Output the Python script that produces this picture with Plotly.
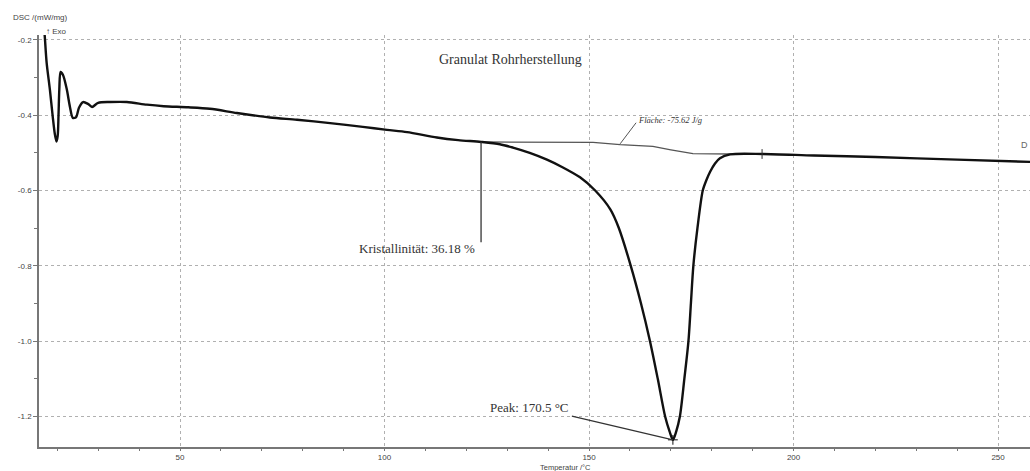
import plotly.graph_objects as go

# DSC heating run of the pipe granulate
temperature = [16.8, 17.0, 17.4, 18.2, 18.9, 19.4, 19.8, 20.1, 20.3, 20.5, 20.8, 21.4,
               22.3, 23.1, 23.8, 24.6, 25.3, 26.3, 27.5, 28.5, 30.0, 32.9, 37.0, 41.9,
               46.0, 52.0, 57.3, 63.9, 72.0, 78.6, 86.7, 94.7, 100.6, 105.5, 112.8, 118.0,
               123.6, 128.2, 131.4, 135.5, 139.7, 143.5, 147.8, 151.5, 155.2, 157.3,
               160.2, 162.7, 164.9, 166.8, 168.6, 169.7, 170.5, 171.3, 172.2, 173.3, 174.3,
               174.9, 175.5, 176.5, 177.8, 178.7, 179.6, 180.8, 182.0, 184.5, 192.5, 205.0,
               220.0, 240.0, 258.0]
dsc = [-0.17, -0.20, -0.261, -0.333, -0.405, -0.450, -0.470, -0.455, -0.400, -0.330, -0.285, -0.293,
       -0.330, -0.378, -0.407, -0.405, -0.380, -0.365, -0.370, -0.378, -0.367, -0.365, -0.365, -0.372,
       -0.376, -0.379, -0.383, -0.394, -0.406, -0.412, -0.421, -0.431, -0.439, -0.445, -0.459, -0.466,
       -0.471, -0.477, -0.486, -0.500, -0.518, -0.538, -0.565, -0.600, -0.650, -0.700,
       -0.800, -0.900, -1.000, -1.100, -1.200, -1.240, -1.262, -1.240, -1.200, -1.100, -1.000,
       -0.900, -0.800, -0.700, -0.600, -0.572, -0.550, -0.528, -0.514, -0.504, -0.503, -0.507,
       -0.511, -0.518, -0.524]

# integration baseline of the melting peak
baseline_t = [123.6, 151.0, 157.6, 165.6, 170.0, 175.4, 185.0, 192.3]
baseline_v = [-0.471, -0.472, -0.478, -0.483, -0.492, -0.502, -0.503, -0.503]

peak_t, peak_v = 170.5, -1.262
onset_t, onset_v = 123.6, -0.471
area_text = "Fläche: -75.62 J/g"
cryst_text = "Kristallinität: 36.18 %"
peak_text = "Peak: 170.5 °C"
title_text = "Granulat Rohrherstellung"

x_ticks = [50, 100, 150, 200, 250]
y_ticks = [-0.2, -0.4, -0.6, -0.8, -1.0, -1.2]
y_labels = ["-0.2", "-0.4", "-0.6", "-0.8", "-1.0", "-1.2"]

axis_col = "#777777"
grid_col = "#b0b0b0"
tick_font = dict(family="Liberation Sans", size=8, color="#444444")
serif = "Liberation Serif"

W, H = 1030, 471
ML, MR, MT, MB = 39, 0, 35, 24

fig = go.Figure()
fig.add_trace(go.Scatter(x=baseline_t, y=baseline_v, mode="lines",
                         line=dict(color="#555555", width=1.3), hoverinfo="skip"))
fig.add_trace(go.Scatter(x=temperature, y=dsc, mode="lines",
                         line=dict(color="#111111", width=2.4, shape="spline", smoothing=0.8)))
fig.add_trace(go.Scatter(x=[peak_t], y=[peak_v], mode="markers",
                         marker=dict(symbol="cross-thin", size=7, line=dict(color="#111111", width=1))))
fig.add_trace(go.Scatter(x=[baseline_t[-1]], y=[baseline_v[-1]], mode="markers",
                         marker=dict(symbol="line-ns", size=7, line=dict(color="#333333", width=1))))

# leader lines
fig.add_shape(type="line", x0=onset_t, y0=onset_v, x1=onset_t, y1=-0.737,
              line=dict(color="#333333", width=1.3))
fig.add_shape(type="line", x0=145.8, y0=-1.199, x1=peak_t, y1=peak_v,
              line=dict(color="#333333", width=1.2))
fig.add_shape(type="line", x0=157.6, y0=-0.476, x1=161.5, y1=-0.42,
              line=dict(color="#555555", width=1))

fig.add_annotation(x=122.7, y=-0.755, text=cryst_text, showarrow=False,
                   xanchor="right", yanchor="middle",
                   font=dict(family=serif, size=13, color="#333333"))
fig.add_annotation(x=145.5, y=-1.175, text=peak_text, showarrow=False,
                   xanchor="right", yanchor="middle",
                   font=dict(family=serif, size=13, color="#333333"))
fig.add_annotation(x=161.5, y=-0.414, text="<i>" + area_text + "</i>", showarrow=False,
                   xanchor="left", yanchor="middle",
                   font=dict(family=serif, size=8.5, color="#333333"))


def paper(px, py):
    # pixel position in the page -> paper coordinates of the plot area
    return (px - ML) / (W - ML - MR), (H - MB - py) / (H - MT - MB)


sans8 = dict(family="Liberation Sans", size=8, color="#444444")
for txt, (px, py), anchor, font in [
    (title_text, (437, 60), "left", dict(family=serif, size=14, color="#333333")),
    ("DSC /(mW/mg)", (11, 17), "left", sans8),
    ("↑ Exo", (44, 31), "left", sans8),
    ("Temperatur /°C", (538, 467), "left", dict(family="Liberation Sans", size=7.5, color="#444444")),
    ("D", (1030, 145), "right", dict(family="Liberation Sans", size=9, color="#666666")),
]:
    x, y = paper(px, py)
    fig.add_annotation(x=x, y=y, xref="paper", yref="paper", text=txt, showarrow=False,
                       xanchor=anchor, yanchor="middle", font=font)

fig.update_layout(
    width=W, height=H,
    margin=dict(l=ML, r=MR, t=MT, b=MB),
    paper_bgcolor="white", plot_bgcolor="white",
    showlegend=False,
    xaxis=dict(range=[15.53, 257.8], tickvals=x_ticks, ticks="outside", ticklen=2,
               tickcolor=axis_col, tickfont=tick_font, showline=True, linecolor=axis_col,
               linewidth=1.5, showgrid=True, gridcolor=grid_col, griddash="dot", gridwidth=1,
               zeroline=False,
               minor=dict(dtick=10, tick0=0, ticks="outside", ticklen=2, tickcolor=axis_col,
                          showgrid=False)),
    yaxis=dict(range=[-1.281, -0.187], tickvals=y_ticks, ticktext=y_labels, ticks="outside",
               ticklen=4, tickcolor=axis_col, tickfont=tick_font, showline=True,
               linecolor=axis_col, linewidth=1.5, showgrid=True, gridcolor=grid_col,
               griddash="dot", gridwidth=1, zeroline=False,
               minor=dict(dtick=0.1, tick0=0, ticks="outside", ticklen=3, tickcolor=axis_col,
                          showgrid=False)),
)

fig.write_html("out.html")
